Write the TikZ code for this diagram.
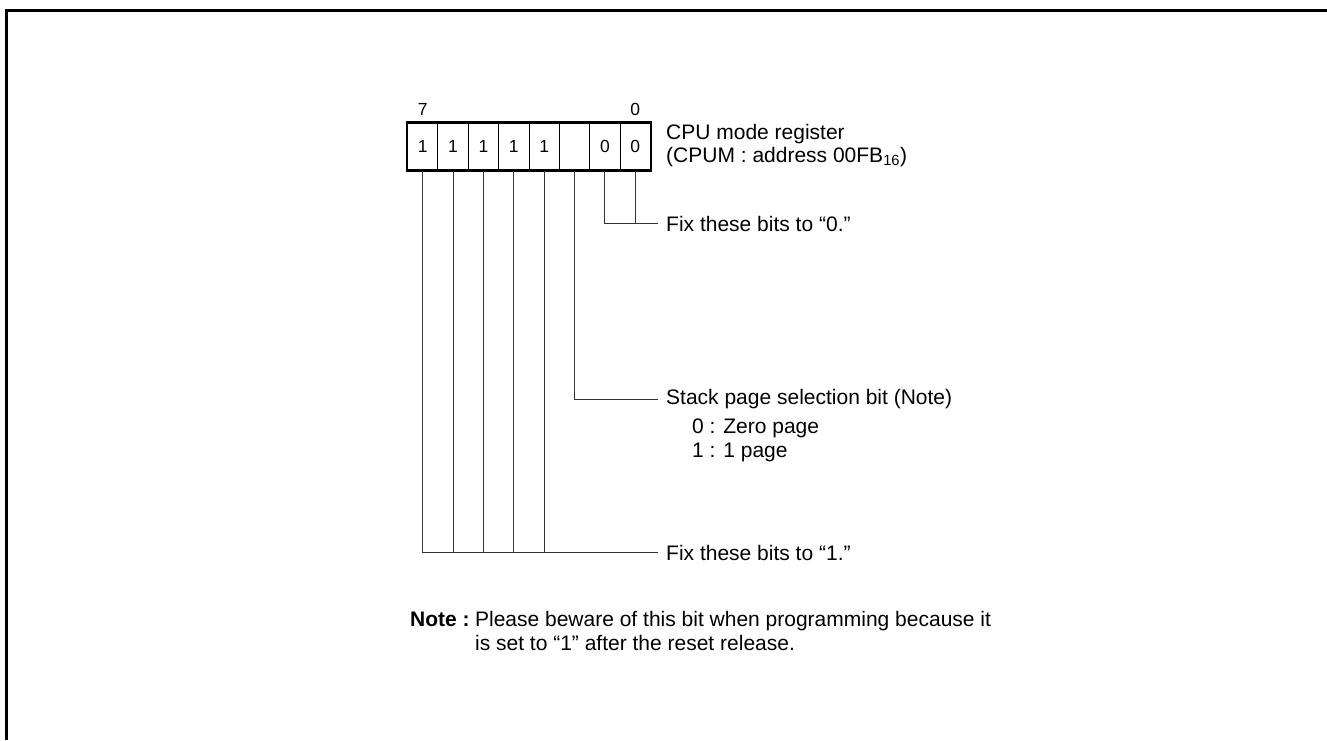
\documentclass[tikz,border=0pt]{standalone}
\usepackage{fontspec}
\setmainfont{Liberation Sans}
\usetikzlibrary{positioning,calc}

\begin{document}
\begin{tikzpicture}[x=1pt,y=-1pt,
  cell/.style={draw,line width=1pt,minimum width=30.375pt,minimum height=47pt,inner sep=0pt,anchor=west,font=\fontsize{17.5}{20}\selectfont},
  lbl/.style={anchor=west,inner sep=0pt,font=\fontsize{21}{24}\selectfont},
  leadtxt/.style={lbl,inner xsep=8pt},
  lead/.style={line width=1pt,draw=black!80}]
\useasboundingbox(0,0)rectangle(1327,740);
\draw[line width=3pt](6,740)--(6,10)--(1327,10);
% register cells, bit 7 on the left
\foreach \v/\n in {1/7,1/6,1/5,1/4,1/3,{}/2,0/1,0/0}
  \node[cell](b\n)at({407+(7-\n)*30.375},146.5){\v};
\draw[line width=2.2pt](b7.north west)rectangle(b0.south east);
\node[lbl,anchor=south,font=\fontsize{17.5}{18}\selectfont](n7)at($(b7.north)+(0,-7)$){7};
\node[lbl,anchor=south,font=\fontsize{17.5}{18}\selectfont](n0)at($(b0.north)+(0,-7)$){0};
\node[lbl,align=left,font=\fontsize{21}{23}\selectfont](reg)at(666,145.5){CPU mode register\\(CPUM : address 00FB\textsubscript{16})};
% leads
\node[leadtxt](fix0)at(658,223.5){Fix these bits to “0.”};
\draw[lead](b1.south)|-(fix0.west);
\draw[lead](b0.south)--(b0.south|-fix0.west);
\node[leadtxt](stk)at(658,399){Stack page selection bit (Note)};
\draw[lead](b2.south)|-(stk.west);
\node[lbl](zero)at(692,428){0 : Zero page};
\node[lbl](one)at(692,452){1 : 1 page};
\node[leadtxt](fix1)at(658,552.5){Fix these bits to “1.”};
\draw[lead](b7.south)|-(fix1.west);
\foreach \n in {6,5,4,3}
  \draw[lead](b\n.south)--(b\n.south|-fix1.west);
% note
\node[lbl](note)at(410,619){\textbf{Note :}};
\node[lbl,anchor=base west](note1)at([xshift=5pt]note.base east){Please beware of this bit when programming because it};
\node[lbl,anchor=base west](note2)at([yshift=-24pt]note1.base west){is set to “1” after the reset release.};
\end{tikzpicture}
\end{document}
